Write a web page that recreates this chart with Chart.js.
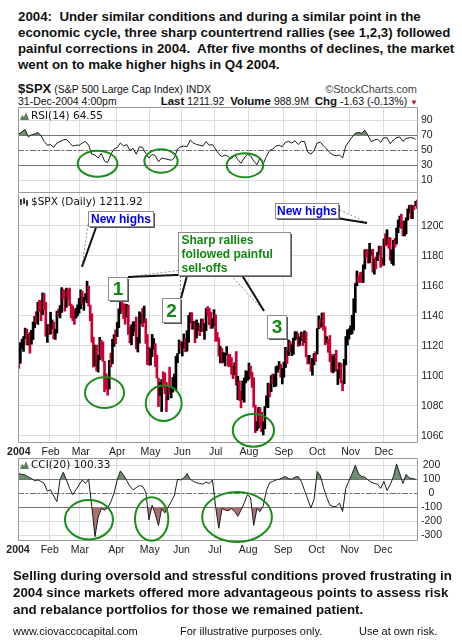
<!DOCTYPE html>
<html>
<head>
<meta charset="utf-8">
<script src="https://cdn.jsdelivr.net/npm/chart.js@4.4.1/dist/chart.umd.min.js"></script>
<style>
  body { margin: 0; width: 462px; height: 643px; position: relative; overflow: hidden; background: #fff; color: #111; font-family: "Liberation Sans", Arial, sans-serif; }
  .t { position: absolute; white-space: nowrap; }
  .para { font-weight: bold; font-size: 13.3px; line-height: 16px; }
  canvas { position: absolute; left: 0; }
  .lbl { position: absolute; left: 20px; font: 10.5px/12px "DejaVu Sans", sans-serif; white-space: nowrap; color: #111; }
  .lbl svg { vertical-align: -1px; margin-right: 2px; }
</style>
</head>
<body>
<div class="t para" style="left:18px;top:9px">2004:&nbsp; Under similar conditions and during a similar point in the<br>economic cycle, three sharp countertrend rallies (see 1,2,3) followed<br>painful corrections in 2004.&nbsp; After five months of declines, the market<br>went on to make higher highs in Q4 2004.</div>

<div class="t" style="left:18px;top:80px;font-size:10.5px;line-height:18px"><b style="font-size:13px">$SPX</b> (S&amp;P 500 Large Cap Index) INDX</div>
<div class="t" style="right:45px;top:83px;font-size:11px;line-height:13px;color:#444">©StockCharts.com</div>
<div class="t" style="left:18px;top:95px;font-size:10.5px;line-height:12px">31-Dec-2004 4:00pm</div>
<div class="t" style="right:44px;top:95px;font-size:10.5px;line-height:12px"><b style="font-size:11.5px">Last</b> 1211.92&nbsp; <b style="font-size:11.5px">Volume</b> 988.9M&nbsp; <b style="font-size:11.5px">Chg</b> -1.63 (-0.13%) <span style="color:#c0103a;font-size:8px">▼</span></div>

<canvas id="rsi" width="462" height="86" style="top:107px"></canvas>
<canvas id="price" width="462" height="266" style="top:193px"></canvas>
<canvas id="cci" width="462" height="99" style="top:458px"></canvas>

<div class="lbl" style="top:109px"><svg width="9" height="8"><path d="M0 8 L2 3 L4 5 L6 0 L9 8 Z" fill="#5f7f5f"/></svg>RSI(14) 64.55</div>
<div class="lbl" style="top:195px"><svg width="9" height="8"><path d="M1 1 V7 M4 0 V6 M7 2 V8 M0 3 H1 M4 4 H5 M7 5 H8" stroke="#000" stroke-width="1.4"/></svg>$SPX (Daily) 1211.92</div>
<div class="lbl" style="top:458px"><svg width="9" height="8"><path d="M0 8 L2 3 L4 5 L6 0 L9 8 Z" fill="#5f7f5f"/></svg>CCI(20) 100.33</div>

<div class="t para" style="left:13px;top:568px;line-height:16.8px">Selling during oversold and stressful conditions proved frustrating in<br>2004 since markets offered more advantageous points to assess risk<br>and rebalance portfolios for those we remained patient.</div>
<div class="t" style="left:13px;top:625px;font-size:11px;line-height:13px">www.ciovaccocapital.com</div>
<div class="t" style="left:180px;top:625px;font-size:11px;line-height:13px">For illustrative purposes only.</div>
<div class="t" style="left:359px;top:625px;font-size:11px;line-height:13px">Use at own risk.</div>

<script>
const monthStarts = [0, 20, 39, 62, 83, 103, 124, 145, 167, 188, 209, 230];
const monthLabels = ['2004', 'Feb', 'Mar', 'Apr', 'May', 'Jun', 'Jul', 'Aug', 'Sep', 'Oct', 'Nov', 'Dec'];
const prevClose = 1111.92; // last close of 2003, colours the first bar

const closes = [
  1108.48,1122.22,1123.67,1126.33,1131.92,1121.86,1127.23,1121.22,1130.52,1132.05,1139.83,1138.77,1147.62,1143.94,1141.55,1155.37,1144.05,1128.48,1134.11,1131.13,
  1135.26,1136.03,1126.52,1128.59,1142.76,1139.81,1145.54,1157.76,1152.11,1145.81,1156.99,1151.82,1147.06,1144.11,1140.99,1139.09,1143.67,1144.91,1144.94,
  1155.97,1149.10,1151.03,1154.87,1156.86,1147.20,1140.58,1123.89,1106.78,1120.57,1104.49,1110.70,1123.75,1122.32,1109.78,1095.40,1093.95,1091.33,1109.19,1108.06,1122.47,1127.00,1126.21,
  1132.17,1141.81,1150.57,1148.16,1140.53,1139.32,1145.20,1129.44,1128.17,1128.84,1134.61,1135.82,1118.15,1124.09,1139.93,1140.60,1135.53,1138.11,1122.41,1113.89,1107.30,
  1117.49,1119.55,1121.53,1113.99,1098.70,1087.12,1095.45,1097.28,1096.44,1095.70,1084.10,1091.49,1088.68,1089.19,1093.56,1095.41,1113.05,1114.94,1121.28,1120.68,
  1121.20,1124.99,1116.64,1122.50,1140.42,1142.18,1131.33,1136.47,1125.29,1132.01,1133.56,1132.05,1135.02,1130.30,1134.41,1144.06,1140.65,1134.43,1133.35,1136.20,1140.84,
  1128.94,1125.38,1116.21,1118.33,1109.11,1112.81,1114.35,1115.14,1111.47,1106.69,1101.39,1100.90,1108.67,1093.88,1096.84,1086.20,1084.07,1094.83,1095.42,1100.43,1101.72,
  1106.62,1099.69,1098.63,1080.70,1063.97,1065.22,1079.04,1075.79,1063.23,1064.80,1079.34,1081.71,1095.17,1091.23,1098.35,1095.68,1096.19,1104.96,1105.09,1107.77,1099.15,1104.24,
  1105.91,1118.31,1113.63,1121.30,1116.27,1118.38,1123.92,1125.82,1128.33,1120.37,1123.50,1128.55,1122.20,1129.30,1113.56,1108.36,1110.11,1103.52,1110.06,1114.80,1114.58,
  1131.50,1135.17,1134.48,1142.05,1130.65,1122.14,1124.39,1121.84,1113.65,1103.29,1108.20,1114.02,1103.23,1103.66,1106.49,1095.74,1094.80,1111.09,1125.40,1127.44,1130.20,
  1130.51,1130.56,1143.20,1161.67,1166.17,1164.89,1164.08,1162.91,1173.48,1184.17,1183.81,1175.43,1181.94,1183.55,1170.34,1177.24,1176.94,1181.76,1182.65,1178.57,1173.82,
  1191.37,1190.33,1191.17,1190.25,1177.07,1182.81,1189.24,1188.00,1198.68,1203.38,1205.72,1203.21,1194.20,1194.65,1205.45,1209.57,1210.13,1204.92,1213.54,1213.45,1213.55,1211.92
];
const highs = [
  1118.9,1122.2,1124.5,1126.3,1131.9,1131.2,1127.9,1129.1,1130.5,1136.0,1139.8,1142.9,1149.2,1150.5,1150.3,1155.4,1155.0,1149.1,1134.4,1134.2,
  1142.5,1137.4,1136.0,1131.2,1143.2,1144.5,1147.0,1158.9,1157.8,1156.9,1158.6,1157.4,1158.6,1148.0,1146.8,1144.5,1145.1,1147.4,1151.7,
  1157.4,1156.5,1152.4,1154.9,1163.2,1159.9,1147.3,1141.5,1125.9,1120.6,1120.6,1113.8,1125.8,1123.8,1122.7,1109.8,1101.5,1098.3,1110.4,1115.3,1124.4,1127.6,1130.8,
  1135.7,1144.8,1150.6,1150.6,1148.2,1148.0,1147.8,1147.3,1132.5,1134.1,1136.2,1136.2,1139.3,1125.7,1142.8,1141.9,1145.1,1146.6,1138.1,1127.7,1119.3,
  1118.2,1127.7,1125.1,1121.5,1114.0,1098.6,1095.7,1097.6,1102.8,1102.0,1095.7,1092.6,1105.9,1092.6,1099.0,1101.3,1113.1,1115.0,1124.0,1122.7,
  1122.7,1128.1,1125.0,1130.3,1140.5,1142.2,1142.2,1136.5,1136.5,1137.4,1135.3,1133.6,1138.0,1138.1,1135.0,1145.0,1146.3,1145.2,1142.6,1138.2,1144.2,
  1140.8,1129.2,1125.4,1119.7,1118.3,1115.6,1115.0,1119.6,1114.6,1114.4,1112.2,1106.7,1108.9,1116.3,1099.7,1096.7,1089.8,1096.7,1098.7,1103.5,1103.2,
  1108.6,1106.6,1102.5,1098.8,1080.7,1069.5,1079.0,1079.0,1075.8,1069.5,1079.7,1086.8,1095.2,1095.2,1100.3,1101.4,1100.9,1106.3,1106.8,1109.7,1107.8,1105.1,
  1109.2,1119.1,1117.0,1124.0,1123.1,1120.8,1125.3,1129.5,1129.5,1128.3,1126.0,1129.3,1128.6,1130.1,1129.3,1113.6,1113.8,1110.1,1111.8,1115.0,1116.3,
  1131.6,1140.1,1137.9,1142.0,1142.1,1132.9,1126.2,1124.4,1127.0,1114.6,1113.2,1114.5,1117.2,1104.1,1108.9,1108.3,1096.8,1111.1,1126.3,1130.7,1131.4,
  1133.4,1140.5,1151.5,1161.7,1170.0,1166.8,1168.9,1169.3,1174.1,1184.2,1184.5,1183.8,1188.5,1184.0,1184.5,1178.2,1179.5,1182.5,1186.6,1186.6,1178.7,
  1191.4,1194.8,1197.5,1192.4,1192.2,1184.1,1190.5,1191.7,1198.7,1204.0,1206.6,1207.9,1203.2,1203.4,1205.5,1211.4,1213.7,1214.1,1213.6,1213.8,1216.5,1217.3
];
const lows = [
  1105.1,1108.5,1118.4,1116.4,1124.9,1120.9,1120.6,1115.2,1121.2,1124.3,1132.1,1135.4,1134.4,1143.0,1136.9,1141.0,1144.0,1126.5,1122.4,1127.7,
  1127.9,1131.3,1124.7,1124.4,1128.6,1139.8,1138.7,1142.3,1151.4,1143.2,1145.8,1150.9,1146.9,1138.8,1136.9,1134.4,1138.5,1140.0,1141.8,
  1144.9,1147.7,1143.8,1150.4,1148.8,1146.5,1136.8,1122.5,1105.9,1106.8,1103.4,1102.6,1110.7,1111.4,1109.7,1089.5,1091.6,1087.2,1091.3,1106.1,1108.1,1119.7,1121.5,
  1126.2,1132.2,1141.6,1143.3,1138.4,1134.5,1139.3,1127.7,1122.2,1120.8,1126.9,1129.8,1118.1,1116.0,1121.9,1134.8,1132.9,1135.5,1121.7,1107.6,1107.2,
  1107.3,1112.9,1117.9,1106.3,1098.6,1079.6,1087.1,1076.3,1091.8,1088.2,1076.3,1084.1,1088.5,1085.4,1089.2,1091.8,1090.7,1108.8,1114.9,1118.1,
  1113.3,1118.6,1116.1,1116.6,1122.5,1135.5,1131.2,1131.3,1122.2,1125.3,1130.1,1126.9,1129.6,1129.6,1124.4,1130.3,1139.9,1134.2,1131.7,1131.8,1133.6,
  1123.1,1123.3,1113.2,1108.8,1108.6,1109.1,1106.7,1113.9,1106.5,1106.3,1101.1,1098.2,1100.9,1093.9,1084.2,1083.7,1078.8,1084.1,1082.5,1095.4,1096.9,
  1097.9,1099.3,1092.4,1079.2,1062.2,1063.6,1065.2,1065.9,1062.8,1060.7,1064.8,1079.3,1078.9,1086.1,1089.6,1094.7,1092.8,1093.2,1102.5,1104.6,1099.2,1094.7,
  1099.2,1105.6,1108.3,1113.6,1116.3,1113.6,1114.4,1123.9,1124.7,1119.8,1120.4,1123.5,1120.3,1122.2,1112.7,1108.0,1108.4,1103.2,1100.5,1107.4,1109.7,
  1114.6,1131.5,1132.0,1132.9,1130.5,1120.8,1122.1,1115.8,1109.6,1102.6,1102.1,1103.3,1103.2,1094.3,1098.5,1095.5,1090.2,1094.8,1107.4,1120.6,1124.6,
  1127.6,1128.1,1130.6,1142.3,1160.1,1162.3,1162.5,1162.3,1162.3,1171.4,1179.3,1175.3,1175.4,1180.4,1169.2,1167.9,1171.4,1176.9,1181.1,1172.4,1173.8,
  1173.8,1186.7,1187.7,1185.2,1177.1,1175.0,1173.8,1185.9,1188.0,1195.5,1199.4,1198.4,1193.4,1193.4,1194.7,1203.9,1208.5,1204.9,1204.9,1210.9,1213.4,1211.7
];

// indicator readings, one every second session (session 0, 2, 4 ...)
const rsi14 = [
  72,75,78,68,71,72,74,70,62,57, 58,54,60,62,64,65,60,56,57,57,
  60,62,57,45,44,40,46,36,34,45, 52,54,60,56,58,50,53,45,55,54,
  46,40,45,43,35,40,39,38,37,40, 52,55,56,55,64,60,58,57,56,62,
  57,58,52,45,42,44,42,39,44,38, 33,40,45,43,36,31,40,32,42,50,
  52,56,57,55,61,62,60,63,58,62, 62,48,45,50,60,61,56,52,47,44,
  43,44,40,56,62,68,73,74,73,77, 70,62,64,65,61,67,67,59,64,67,
  68,62,66,67,67,65
];
const cci20 = [
  140,135,130,115,105,90,95,85,70,15, 25,-20,-60,100,150,95,35,-10,25,60,
  95,70,100,-95,-310,-170,-110,-120,-105,-60, 0,95,160,130,90,50,25,40,55,50,
  10,-190,-85,-150,-230,-110,-140,-100,-60,-15, 100,95,110,140,100,85,75,70,65,80,
  70,95,-95,-250,-110,-120,-125,-110,-130,-165, -120,-70,-10,-30,-230,-110,-130,-90,20,75,
  85,95,100,110,120,105,100,115,120,85, 20,-40,-105,-45,155,125,40,-30,-85,-95,
  -95,-70,-130,35,90,140,200,140,120,115, 95,80,70,65,35,85,20,60,120,210,
  140,70,135,110,105,100
];

const priceTicks = [1060, 1080, 1100, 1120, 1140, 1160, 1180, 1200];
const rsiTicks = [10, 30, 50, 70, 90];
const cciTicks = [-300, -200, -100, 0, 100, 200];

const UP = '#000000', DOWN = '#cc0033';
const GREEN_FILL = '#6e8f6e', RED_FILL = '#a87272';
const GRID = '#dcdcdc', LEVEL = '#707070', OVAL = '#1a8c1a';
const SANS = '"Liberation Sans", Arial, sans-serif';
const DASHDOT = [6, 2, 2, 2];

Chart.defaults.font.family = SANS;
Chart.defaults.color = '#222';

// panel frame, level lines and the hand-drawn notes (all placed in data units)
const panelPlugin = {
  id: 'panel',
  beforeDatasetsDraw(chart, args, opts) {
    const {ctx, chartArea: a} = chart;
    const y = chart.scales.y;
    ctx.save();
    (opts.levels || []).forEach(l => {
      const py = Math.round(y.getPixelForValue(l.value)) + 0.5;
      ctx.strokeStyle = LEVEL;
      ctx.lineWidth = 1;
      ctx.setLineDash(l.dash || []);
      ctx.beginPath(); ctx.moveTo(a.left, py); ctx.lineTo(a.right, py); ctx.stroke();
    });
    ctx.restore();
  },
  afterDraw(chart, args, opts) {
    const {ctx, chartArea: a} = chart;
    const X = v => chart.scales.x.getPixelForValue(v);
    const Y = v => chart.scales.y.getPixelForValue(v);
    ctx.save();
    // frame
    const l = Math.round(a.left) + 0.5, r = Math.round(a.right) - 0.5;
    const t = Math.round(a.top) + 0.5, b = Math.round(a.bottom) - 0.5;
    ctx.strokeStyle = '#9a9a9a'; ctx.lineWidth = 1;
    ctx.beginPath();
    if (opts.top !== false) { ctx.moveTo(l, t); ctx.lineTo(r, t); }
    ctx.moveTo(l, t); ctx.lineTo(l, b); ctx.lineTo(r, b); ctx.lineTo(r, t);
    ctx.stroke();

    (opts.pointers || []).forEach(p => {
      const tip = [X(p.tip[0]), Y(p.tip[1])];
      const b0 = [X(p.base[0][0]), Y(p.base[0][1])];
      const b1 = [X(p.base[1][0]), Y(p.base[1][1])];
      ctx.fillStyle = '#fff';
      ctx.beginPath(); ctx.moveTo(b0[0], b0[1]); ctx.lineTo(tip[0], tip[1]); ctx.lineTo(b1[0], b1[1]); ctx.closePath(); ctx.fill();
      ctx.strokeStyle = '#8a8a8a'; ctx.lineWidth = 1; ctx.setLineDash([2, 2]);
      ctx.beginPath(); ctx.moveTo(b0[0], b0[1]); ctx.lineTo(tip[0], tip[1]); ctx.stroke();
      ctx.strokeStyle = '#111'; ctx.lineWidth = 2; ctx.setLineDash([]);
      ctx.beginPath(); ctx.moveTo(b1[0], b1[1]); ctx.lineTo(tip[0], tip[1]); ctx.stroke();
    });

    (opts.boxes || []).forEach(bx => {
      const x0 = X(bx.from[0]), y0 = Y(bx.from[1]), x1 = X(bx.to[0]), y1 = Y(bx.to[1]);
      const bl = Math.round(Math.min(x0, x1)) + 0.5, bt = Math.round(Math.min(y0, y1)) + 0.5;
      const bw = Math.round(Math.abs(x1 - x0)), bh = Math.round(Math.abs(y1 - y0));
      ctx.setLineDash([]);
      ctx.fillStyle = '#555'; ctx.fillRect(bl + 1.5, bt + 1.5, bw, bh);
      ctx.fillStyle = '#fff'; ctx.fillRect(bl, bt, bw, bh);
      ctx.strokeStyle = '#8c8c8c'; ctx.lineWidth = 1; ctx.strokeRect(bl, bt, bw, bh);
      ctx.fillStyle = bx.color; ctx.font = bx.font; ctx.textBaseline = 'middle';
      ctx.textAlign = bx.align || 'center';
      const tx = bx.align === 'left' ? bl + 3 : bl + bw / 2;
      const n = bx.lines.length, lh = bx.lineHeight || 14;
      bx.lines.forEach((s, k) => ctx.fillText(s, tx, bt + bh / 2 + 1 + (k - (n - 1) / 2) * lh));
    });

    ctx.strokeStyle = OVAL; ctx.lineWidth = 2; ctx.setLineDash([]);
    (opts.ellipses || []).forEach(e => {
      const cx = X(e.x), cy = Y(e.y);
      const rx = Math.abs(X(e.x + e.rx) - cx), ry = Math.abs(Y(e.y + e.ry) - cy);
      ctx.beginPath(); ctx.ellipse(cx, cy, rx, ry, 0, 0, Math.PI * 2); ctx.stroke();
    });
    ctx.restore();
  }
};

const tickFont = c => ({family: SANS, size: 10.5, weight: c.index === 0 ? 'bold' : 'normal'});

function valueAxis(min, max, ticks) {
  return {
    position: 'right', min, max,
    afterBuildTicks: s => { s.ticks = ticks.map(v => ({value: v})); },
    afterFit: s => { s.width = 25; s.paddingTop = 0; s.paddingBottom = 0; },
    ticks: {font: {family: SANS, size: 10.5}, color: '#222', padding: 3, crossAlign: 'center',
      callback: v => String(v)},
    grid: {color: GRID, drawTicks: false},
    border: {display: false}
  };
}

function dayAxis(showLabels) {
  return {
    type: 'linear', min: -0.5, max: closes.length - 0.5,
    afterBuildTicks: s => { s.ticks = monthStarts.map(m => ({value: m - 0.5})); },
    afterFit: s => { s.height = showLabels ? 16 : 0; s.paddingLeft = 0; s.paddingRight = 0; },
    ticks: {display: showLabels, autoSkip: false, maxRotation: 0, minRotation: 0, padding: 3,
      color: '#222', font: tickFont, callback: (v, i) => monthLabels[i]},
    grid: {color: GRID, drawTicks: false},
    border: {display: false}
  };
}

const common = {
  responsive: false, animation: false, devicePixelRatio: 1, events: [],
  layout: {padding: {left: 18, right: 19, top: 0, bottom: 0}}
};

new Chart(document.getElementById('rsi'), {
  type: 'line',
  data: {datasets: [{
    data: rsi14.map((v, k) => ({x: k * 2, y: v})),
    borderColor: '#1c1c1c', borderWidth: 1, pointRadius: 0, tension: 0,
    fill: {target: {value: 70}, above: GREEN_FILL, below: 'transparent'}
  }]},
  options: {
    ...common,
    scales: {x: dayAxis(false), y: valueAxis(-6.7, 108, rsiTicks)},
    plugins: {
      legend: {display: false}, tooltip: {enabled: false},
      panel: {
        levels: [{value: 70}, {value: 30}, {value: 50, dash: DASHDOT}],
        ellipses: [
          {x: 49.6, y: 32.4, rx: 12.5, ry: 17.3},
          {x: 89.6, y: 36, rx: 10.5, ry: 15.6},
          {x: 142.5, y: 30.3, rx: 11.5, ry: 16}
        ]
      }
    }
  },
  plugins: [panelPlugin]
});

new Chart(document.getElementById('price'), {
  type: 'bar',
  data: {
    labels: closes.map((c, i) => i),
    datasets: [{
      data: highs.map((h, i) => [lows[i], h]),
      backgroundColor: closes.map((c, i) => c < (i ? closes[i - 1] : prevClose) ? DOWN : UP),
      barThickness: 2, borderWidth: 0
    }]
  },
  options: {
    ...common,
    scales: {
      x: {
        type: 'category',
        afterFit: s => { s.height = 16; s.paddingLeft = 0; s.paddingRight = 0; },
        ticks: {autoSkip: false, maxRotation: 0, minRotation: 0, padding: 3, color: '#222', font: tickFont,
          callback: (v, i) => { const k = monthStarts.indexOf(i); return k < 0 ? '' : monthLabels[k]; }},
        grid: {color: c => (c.index > 0 && monthStarts.includes(c.index)) ? GRID : 'transparent', drawTicks: false, offset: true},
        border: {display: false}
      },
      y: valueAxis(1055.33, 1222, priceTicks)
    },
    plugins: {
      legend: {display: false}, tooltip: {enabled: false},
      panel: {
        top: false,
        pointers: [
          {tip: [39.8, 1172.7], base: [[43.6, 1201], [49.3, 1201]]},
          {tip: [68.8, 1166], base: [[103, 1170.7], [103, 1167.5]]},
          {tip: [102.2, 1152], base: [[101.6, 1169.3], [106.6, 1169.3]]},
          {tip: [154.5, 1143.3], base: [[131.8, 1169.3], [139.4, 1169.3]]},
          {tip: [219.4, 1202], base: [[199.9, 1212], [196.1, 1206]]}
        ],
        boxes: [
          {from: [43.6, 1210], to: [84.6, 1200], lines: ['New highs'], color: '#0000ee', font: 'bold 12px ' + SANS},
          {from: [161.4, 1215.3], to: [201.1, 1205.3], lines: ['New highs'], color: '#0000ee', font: 'bold 12px ' + SANS},
          {from: [100.3, 1196], to: [170.9, 1167.3], lines: ['Sharp rallies', 'followed painful', 'sell-offs'],
            color: '#118811', font: 'bold 12px ' + SANS, align: 'left', lineHeight: 14},
          {from: [56.2, 1166], to: [68.2, 1150.7], lines: ['1'], color: '#118811', font: 'bold 19px ' + SANS},
          {from: [90.2, 1152], to: [101.6, 1136], lines: ['2'], color: '#118811', font: 'bold 19px ' + SANS},
          {from: [156.4, 1140.7], to: [168.4, 1125.3], lines: ['3'], color: '#118811', font: 'bold 19px ' + SANS}
        ],
        ellipses: [
          {x: 54, y: 1088.9, rx: 12.3, ry: 10.3},
          {x: 91.3, y: 1081.8, rx: 11.3, ry: 11.8},
          {x: 147.8, y: 1063.8, rx: 13, ry: 10.9}
        ]
      }
    }
  },
  plugins: [panelPlugin]
});

const cciPoints = cci20.map((v, k) => ({x: k * 2, y: v}));
new Chart(document.getElementById('cci'), {
  type: 'line',
  data: {datasets: [
    {data: cciPoints, borderColor: '#1c1c1c', borderWidth: 1, pointRadius: 0, tension: 0,
      fill: {target: {value: 100}, above: GREEN_FILL, below: 'transparent'}},
    {data: cciPoints, borderColor: 'transparent', borderWidth: 0, pointRadius: 0, tension: 0,
      fill: {target: {value: -100}, above: 'transparent', below: RED_FILL}}
  ]},
  options: {
    ...common,
    scales: {x: dayAxis(true), y: valueAxis(-341, 252, cciTicks)},
    plugins: {
      legend: {display: false}, tooltip: {enabled: false},
      panel: {
        levels: [{value: 100}, {value: -100}, {value: 0, dash: DASHDOT}],
        ellipses: [
          {x: 44.2, y: -188.7, rx: 15.1, ry: 140.7},
          {x: 83.7, y: -183.7, rx: 10.5, ry: 155},
          {x: 137.5, y: -169.4, rx: 22, ry: 178.6}
        ]
      }
    }
  },
  plugins: [panelPlugin]
});
</script>
</body>
</html>
